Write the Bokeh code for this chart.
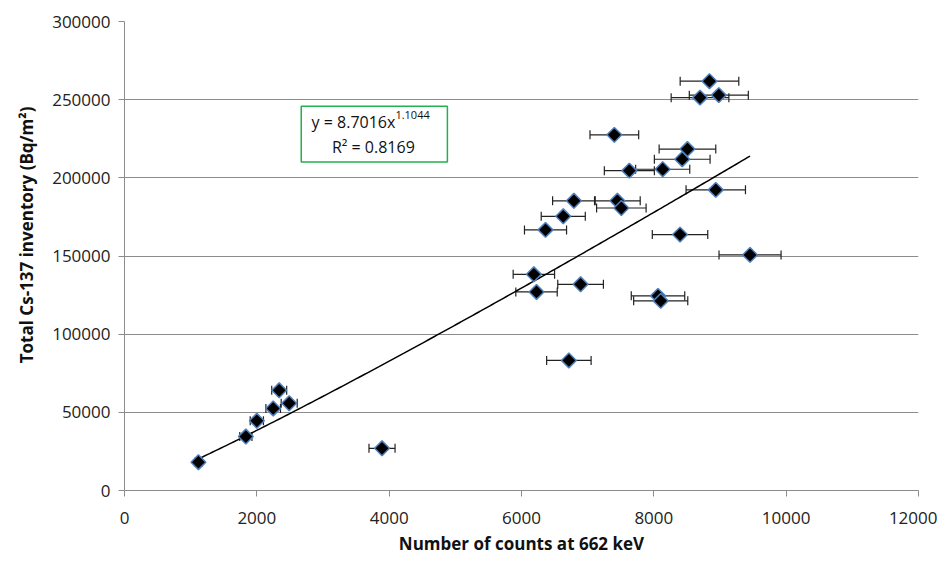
import numpy as np
from bokeh.plotting import figure
from bokeh.models import (ColumnDataSource, Whisker, TeeHead, FixedTicker,
                          BasicTickFormatter, Range1d, Label, BoxAnnotation, Title)
from bokeh.embed import file_html
from bokeh.resources import INLINE

# ---- data ----
counts = [8841, 8698, 8982, 8508, 8429, 8134, 7630, 8936, 8396, 9454,
          6792, 7449, 7509, 6631, 6363, 6187, 6893, 6227, 8063, 8104,
          6716, 7403, 1117, 1834, 2000, 2247, 2338, 2489, 3892]
inventory = [261800, 251300, 252900, 218400, 211900, 205500, 204600, 192300, 163700, 150700,
             185300, 185300, 180700, 175400, 166700, 138300, 131900, 127000, 124500, 121300,
             83200, 227500, 18100, 34500, 44600, 52500, 64100, 55800, 27000]
count_err = [443, 436, 446, 428, 421, 409, 378, 449, 419, 469,
             322, 345, 374, 333, 318, 313, 345, 313, 404, 409,
             336, 368, 56, 92, 100, 110, 113, 121, 197]

fit_a = 8.7016
fit_b = 1.1044
r_squared = 0.8169

x_ticks = [0, 2000, 4000, 6000, 8000, 10000, 12000]
y_ticks = [0, 50000, 100000, 150000, 200000, 250000, 300000]

FONT = "Open Sans"
GRID = "#8C8C8C"

src = ColumnDataSource(dict(
    x=counts, y=inventory,
    lo=[c - e for c, e in zip(counts, count_err)],
    hi=[c + e for c, e in zip(counts, count_err)],
))

p = figure(width=937, height=557, output_backend="svg", toolbar_location=None,
           x_range=Range1d(0, 12000), y_range=Range1d(0, 300000),
           min_border_left=124, min_border_right=19, min_border_top=21, min_border_bottom=64)
p.outline_line_color = None
p.background_fill_color = "white"

# grids
p.xgrid.grid_line_color = None
p.ygrid.grid_line_color = GRID
p.ygrid.grid_line_width = 1
p.ygrid.ticker = FixedTicker(ticks=y_ticks)

for ax in (p.xaxis[0], p.yaxis[0]):
    ax.axis_line_color = GRID
    ax.major_tick_line_color = GRID
    ax.major_tick_out = 6
    ax.major_tick_in = 0
    ax.minor_tick_line_color = None
    ax.major_label_text_font = FONT
    ax.major_label_text_font_size = "17px"
    ax.major_label_text_color = "#222222"
    ax.axis_label_text_font = FONT
    ax.axis_label_text_font_size = "17px"
    ax.axis_label_text_font_style = "bold"
    ax.axis_label_text_color = "#111111"
    ax.formatter = BasicTickFormatter(use_scientific=False)

p.xaxis.ticker = FixedTicker(ticks=x_ticks)
p.yaxis.ticker = FixedTicker(ticks=y_ticks)
p.xaxis.axis_label = "Number of counts at 662 keV"
p.xaxis.major_label_standoff = 15
p.yaxis.major_label_standoff = 8
p.xaxis.axis_label_standoff = 5

# y-axis title as a left-side title, placed a little above the frame centre
p.add_layout(Title(text="Total Cs-137 inventory (Bq/m²)", align="right", offset=85,
                   text_font=FONT, text_font_size="17px", text_font_style="bold",
                   text_color="#111111", standoff=23), "left")

# error bars
w = Whisker(source=src, base="y", lower="lo", upper="hi", dimension="width",
            line_color="#222222", line_width=1.2,
            lower_head=TeeHead(size=9, line_color="#222222", line_width=1.2),
            upper_head=TeeHead(size=9, line_color="#222222", line_width=1.2),
            level="underlay")
p.add_layout(w)

# trendline from fitted power law
xs = np.linspace(min(counts), max(counts), 200)
p.line(xs, fit_a * xs ** fit_b, line_color="black", line_width=1.5)

# markers
p.scatter("x", "y", source=src, marker="square", angle=np.pi / 4, size=10.5,
          fill_color="black", line_color="#4F81BD", line_width=1.5)

# equation box
box = BoxAnnotation(left=2671, right=4880, top=245750, bottom=210150,
                    fill_color="white", fill_alpha=1.0,
                    line_color="#22B14C", line_width=1.5, line_alpha=1.0)
p.add_layout(box)
p.add_layout(Label(x=4094, y=235600, text=f"y = {fit_a}x", text_align="right",
                   text_baseline="middle", text_font=FONT, text_font_size="16px",
                   text_color="#111111"))
p.add_layout(Label(x=4094, y=240500, text=f"{fit_b}", text_align="left",
                   text_baseline="middle", text_font=FONT, text_font_size="11px",
                   text_color="#111111"))
p.add_layout(Label(x=3761, y=219700, text=f"R² = {r_squared}", text_align="center",
                   text_baseline="middle", text_font=FONT, text_font_size="16px",
                   text_color="#111111"))

open("out.html", "w").write(file_html(p, INLINE))
